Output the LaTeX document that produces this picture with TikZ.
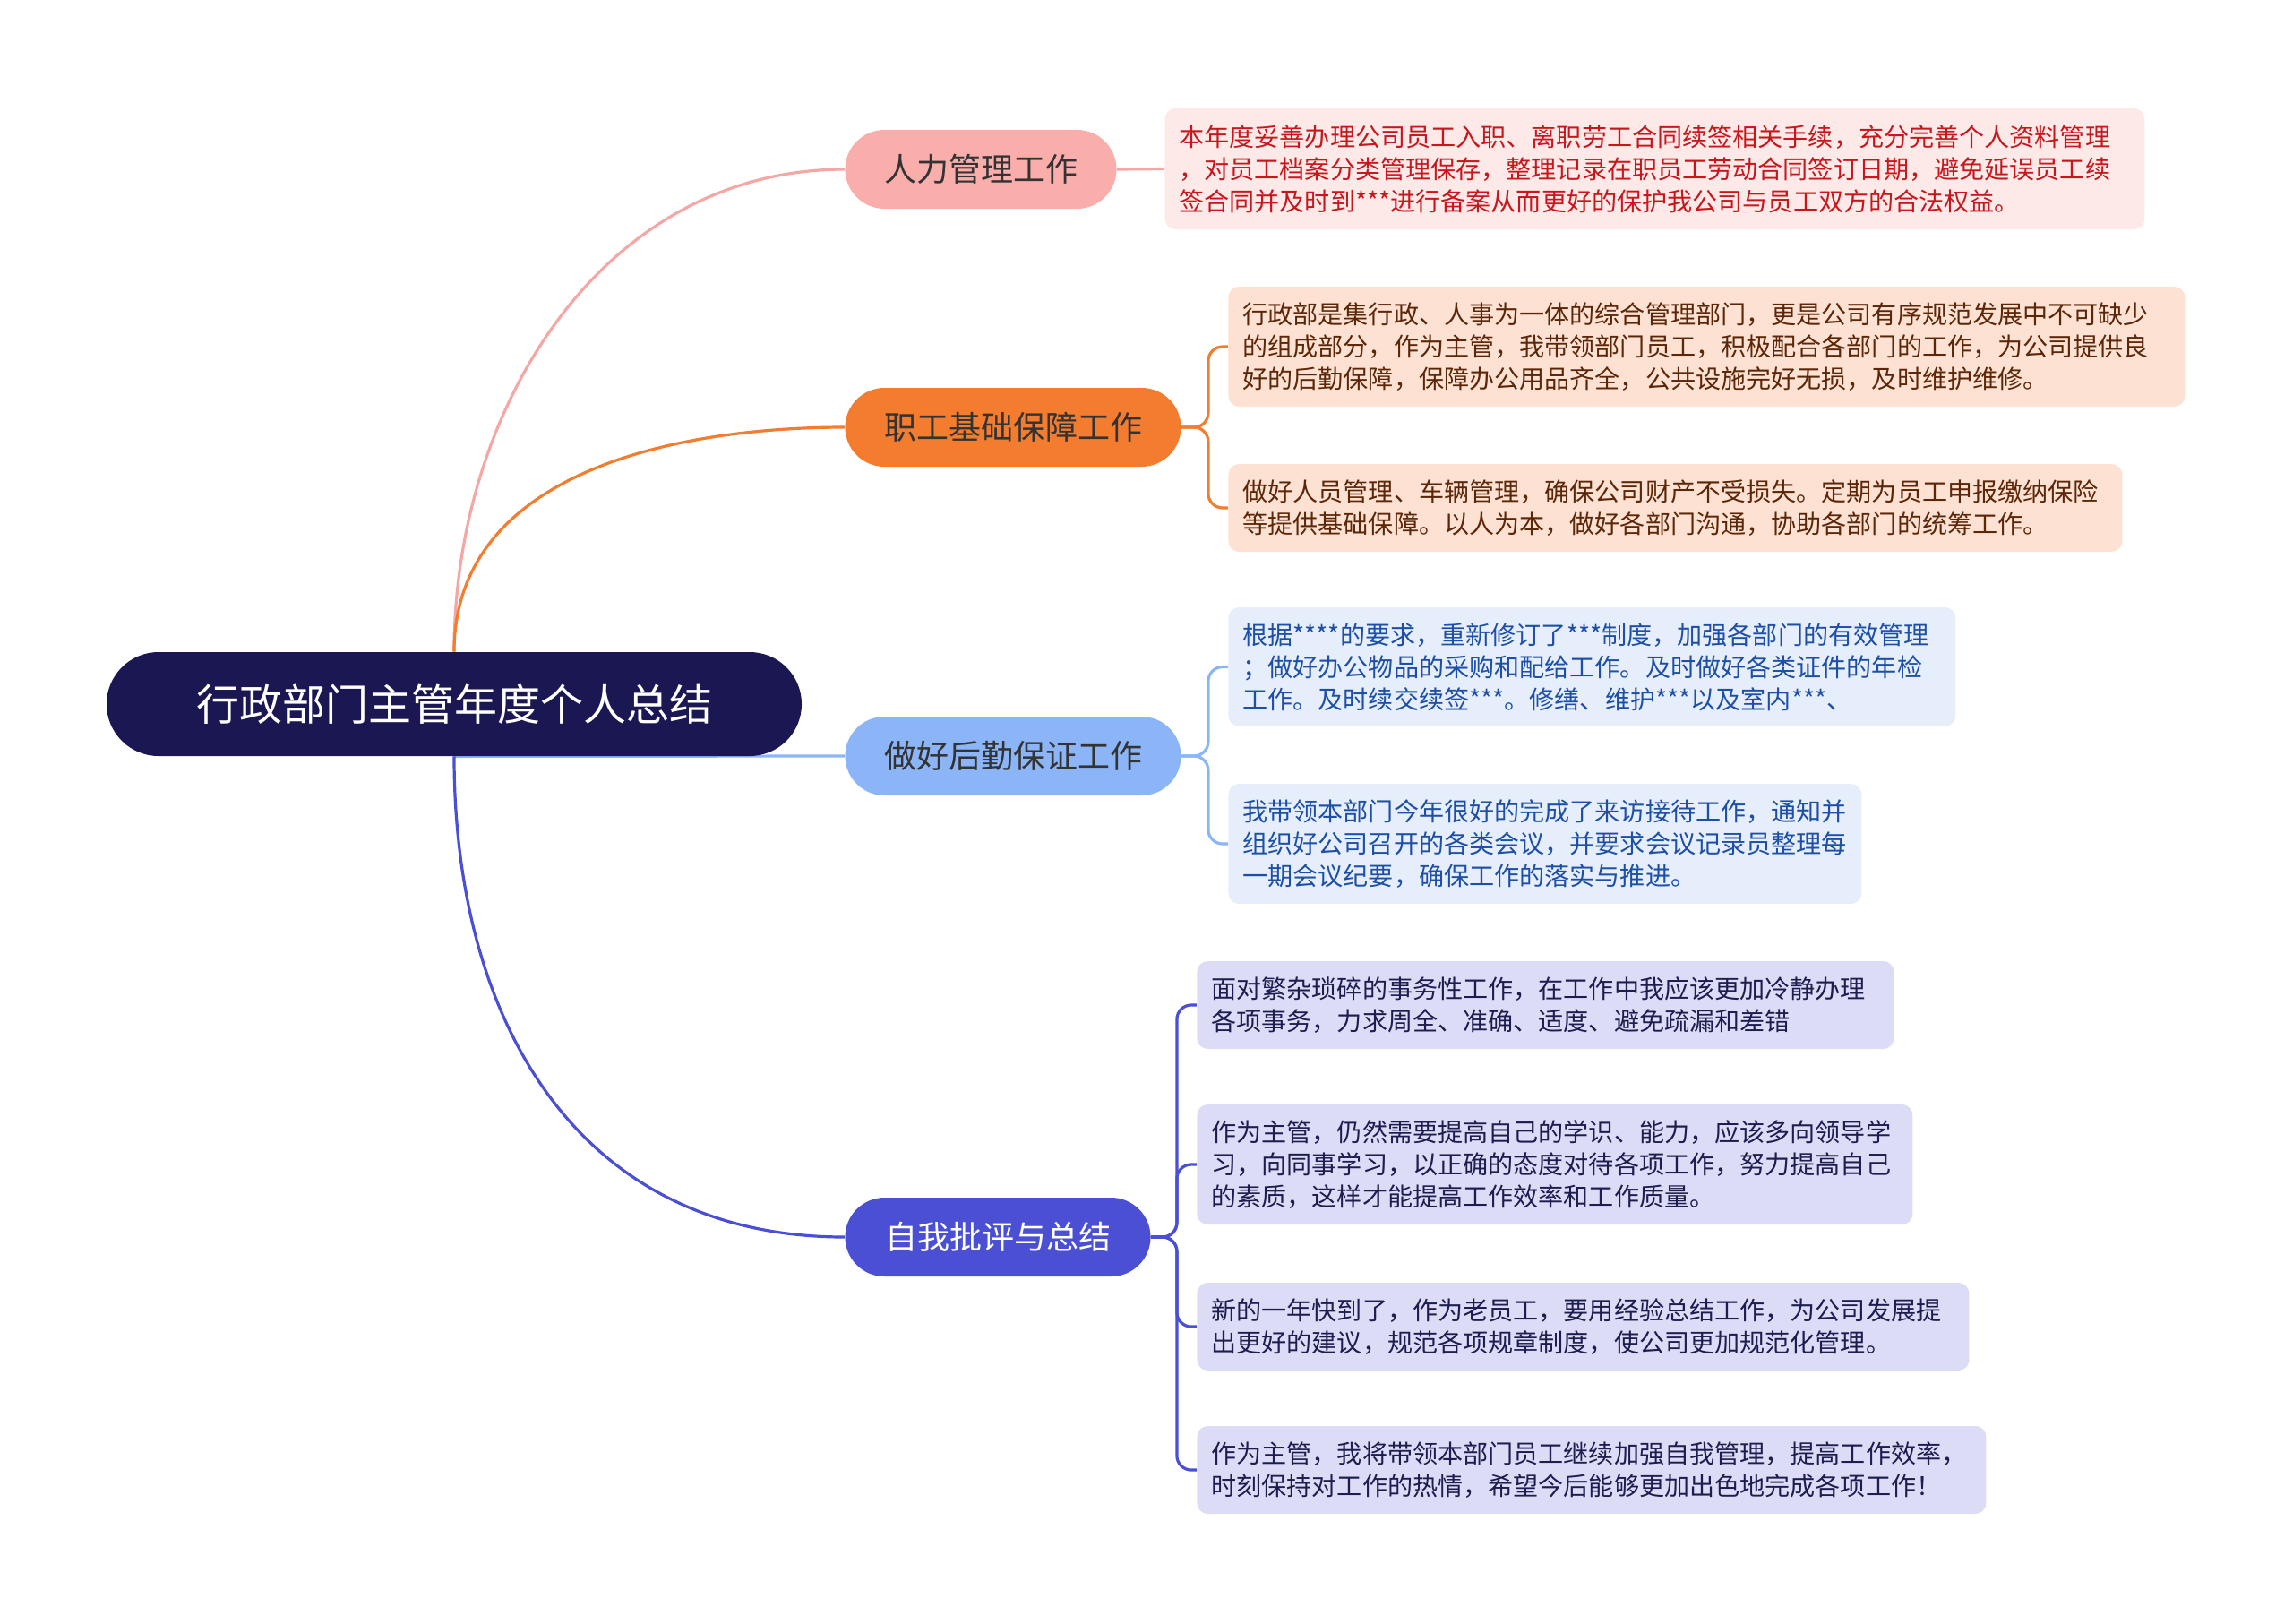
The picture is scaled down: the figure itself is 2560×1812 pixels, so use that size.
\documentclass[tikz,border=0pt]{standalone}
\usepackage{fontspec}
\setmainfont{Noto Sans CJK SC}
\usetikzlibrary{backgrounds}

\definecolor{rootfill}{HTML}{1B1752}
\definecolor{hrfill}{HTML}{F9AEAB}
\definecolor{hrline}{HTML}{F4A7A4}
\definecolor{basefill}{HTML}{F47C2F}
\definecolor{logifill}{HTML}{8CB5F7}
\definecolor{selffill}{HTML}{4A4FD4}
\definecolor{hrbg}{HTML}{FDE9E8}
\definecolor{hrtext}{HTML}{C8161D}
\definecolor{basebg}{HTML}{FDE2D4}
\definecolor{basetext}{HTML}{5C2708}
\definecolor{logibg}{HTML}{E6EEFB}
\definecolor{logitext}{HTML}{1E4FA6}
\definecolor{selfbg}{HTML}{DCDCF6}
\definecolor{selftext}{HTML}{1D1D4F}

\tikzset{
  root/.style={fill=rootfill, text=white, rounded corners=29pt, minimum width=388pt,
    minimum height=58pt, font=\fontsize{24}{28}\selectfont},
  topic/.style={rounded corners=22pt, minimum height=44pt, text=black!80,
    font=\fontsize{18}{22}\selectfont},
  leaf/.style 2 args={anchor=west, align=left, rounded corners=6pt, inner xsep=8pt,
    text width=#1, minimum height=#2, font=\fontsize{14.05}{18}\selectfont},
  hrleaf/.style={fill=hrbg, text=hrtext},
  baseleaf/.style={fill=basebg, text=basetext},
  logileaf/.style={fill=logibg, text=logitext},
  selfleaf/.style={fill=selfbg, text=selftext},
  link/.style={draw=#1, line width=1.6pt}
}

\begin{document}
\begin{tikzpicture}[x=0.5pt,y=-0.5pt]
\useasboundingbox (0,0) rectangle (2560,1812);

\node[root] (root) at (507,786) {行政部门主管年度个人总结};

\node[topic, fill=hrfill, minimum width=151.5pt] (hr) at (1095,189) {人力管理工作};
\node[topic, fill=basefill, minimum width=187.5pt] (base) at (1131,477) {职工基础保障工作};
\node[topic, fill=logifill, minimum width=187.5pt] (logi) at (1131,844) {做好后勤保证工作};
\node[topic, fill=selffill, text=white, minimum width=170.5pt] (self) at (1114,1381) {自我批评与总结};

% details
\node[leaf={531pt}{67.5pt}, hrleaf] (hr1) at (1300,188.5)
  {本年度妥善办理公司员工入职、离职劳工合同续签相关手续，充分完善个人资料管理\\
   ，对员工档案分类管理保存，整理记录在职员工劳动合同签订日期，避免延误员工续\\
   签合同并及时到***进行备案从而更好的保护我公司与员工双方的合法权益。};

\node[leaf={518pt}{67pt}, baseleaf] (base1) at (1371,387)
  {行政部是集行政、人事为一体的综合管理部门，更是公司有序规范发展中不可缺少\\
   的组成部分，作为主管，我带领部门员工，积极配合各部门的工作，为公司提供良\\
   好的后勤保障，保障办公用品齐全，公共设施完好无损，及时维护维修。};
\node[leaf={483pt}{49pt}, baseleaf] (base2) at (1371,567)
  {做好人员管理、车辆管理，确保公司财产不受损失。定期为员工申报缴纳保险\\
   等提供基础保障。以人为本，做好各部门沟通，协助各部门的统筹工作。};

\node[leaf={390pt}{66.5pt}, logileaf] (logi1) at (1371,744.5)
  {根据****的要求，重新修订了***制度，加强各部门的有效管理\\
   ；做好办公物品的采购和配给工作。及时做好各类证件的年检\\
   工作。及时续交续签***。修缮、维护***以及室内***、};
\node[leaf={337.5pt}{67pt}, logileaf] (logi2) at (1371,942)
  {我带领本部门今年很好的完成了来访接待工作，通知并\\
   组织好公司召开的各类会议，并要求会议记录员整理每\\
   一期会议纪要，确保工作的落实与推进。};

\node[leaf={373pt}{49pt}, selfleaf] (self1) at (1336,1122)
  {面对繁杂琐碎的事务性工作，在工作中我应该更加冷静办理\\
   各项事务，力求周全、准确、适度、避免疏漏和差错};
\node[leaf={383.5pt}{67pt}, selfleaf] (self2) at (1336,1300)
  {作为主管，仍然需要提高自己的学识、能力，应该多向领导学\\
   习，向同事学习，以正确的态度对待各项工作，努力提高自己\\
   的素质，这样才能提高工作效率和工作质量。};
\node[leaf={415pt}{49pt}, selfleaf] (self3) at (1336,1481)
  {新的一年快到了，作为老员工，要用经验总结工作，为公司发展提\\
   出更好的建议，规范各项规章制度，使公司更加规范化管理。};
\node[leaf={424.5pt}{49pt}, selfleaf] (self4) at (1336,1641)
  {作为主管，我将带领本部门员工继续加强自我管理，提高工作效率，\\
   时刻保持对工作的热情，希望今后能够更加出色地完成各项工作！};

\begin{scope}[on background layer]
\draw[link=hrline] (root.north) to[out=90,in=180] (hr.west);
\draw[link=basefill] (root.north) to[out=90,in=180] (base.west);
\draw[link=logifill] (root.south) -- (logi.west);
\draw[link=selffill] (root.south) to[out=-90,in=180,looseness=1.1] (self.west);
\draw[link=hrline] (hr.east) -- (hr1.west);
\foreach \d in {base1,base2}
  \draw[link=basefill, rounded corners=8pt] (base.east) -- ++(30,0) |- (\d.west);
\foreach \d in {logi1,logi2}
  \draw[link=logifill, rounded corners=8pt] (logi.east) -- ++(30,0) |- (\d.west);
\foreach \d in {self1,self2,self3,self4}
  \draw[link=selffill, rounded corners=8pt] (self.east) -- ++(29,0) |- (\d.west);
\end{scope}
\end{tikzpicture}
\end{document}
